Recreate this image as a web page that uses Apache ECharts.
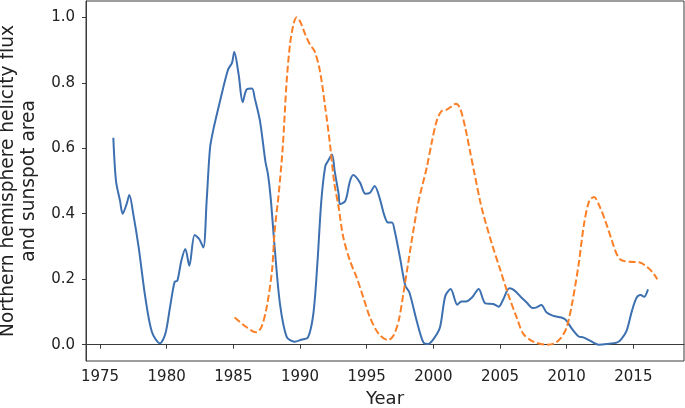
<!DOCTYPE html>
<html>
<head>
<meta charset="utf-8">
<script src="https://cdn.jsdelivr.net/npm/echarts@6/dist/echarts.min.js"></script>
<style>
    html, body { margin: 0; padding: 0; background: #fff; }
    #chart { width: 685px; height: 408px; }
</style>
</head>
<body>
<div id="chart"></div>
<script>
    // helicity flux (blue, solid)
    const helicityYears = [1976.0, 1976.2, 1976.5, 1976.7, 1977.0, 1977.2, 1977.5, 1977.9, 1978.4, 1978.9, 1979.5, 1979.9,
        1980.25, 1980.6, 1980.8, 1981.1, 1981.4, 1981.7, 1982.1, 1982.45, 1982.75, 1983.0, 1983.25, 1983.5, 1984.0,
        1984.6, 1984.9, 1985.07, 1985.4, 1985.7, 1986.0, 1986.4, 1986.6, 1987.0, 1987.4, 1987.6, 1987.8, 1988.1,
        1988.5, 1989.0, 1989.6, 1990.1, 1990.6, 1991.0, 1991.3, 1991.6, 1991.9, 1992.1, 1992.4, 1992.6, 1992.9,
        1993.0, 1993.4, 1993.75, 1994.0, 1994.5, 1994.9, 1995.25, 1995.6, 1996.0, 1996.3, 1996.6, 1996.9, 1997.1,
        1997.5, 1997.9, 1998.2, 1998.75, 1999.25, 1999.6, 2000.1, 2000.5, 2000.9, 2001.3, 2001.8, 2002.1, 2002.45,
        2002.9, 2003.4, 2003.9, 2004.5, 2004.9, 2005.25, 2005.7, 2006.1, 2006.6, 2007.0, 2007.45, 2007.75, 2008.1,
        2008.5, 2009.0, 2009.6, 2009.95, 2010.4, 2010.9, 2011.25, 2011.75, 2012.4, 2013.0, 2013.8, 2014.1, 2014.5,
        2014.9, 2015.25, 2015.55, 2015.8, 2016.1];
    const helicityValues = [0.632, 0.50, 0.44, 0.40, 0.43, 0.457, 0.398, 0.297, 0.144, 0.038, 0.004, 0.033,
        0.114, 0.192, 0.195, 0.256, 0.292, 0.241, 0.335, 0.322, 0.297, 0.44, 0.60, 0.657, 0.744,
        0.84, 0.861, 0.894, 0.825, 0.741, 0.78, 0.783, 0.754, 0.683, 0.561, 0.52, 0.449, 0.297,
        0.124, 0.024, 0.009, 0.015, 0.022, 0.094, 0.246, 0.44, 0.546, 0.561, 0.581, 0.53, 0.46,
        0.429, 0.439, 0.50, 0.518, 0.495, 0.461, 0.464, 0.485, 0.444, 0.398, 0.373, 0.373, 0.348,
        0.266, 0.18, 0.16, 0.073, 0.007, 0.002, 0.022, 0.053, 0.149, 0.17, 0.122, 0.132, 0.132,
        0.144, 0.17, 0.126, 0.124, 0.116, 0.139, 0.172, 0.165, 0.144, 0.129, 0.112, 0.114, 0.121,
        0.098, 0.088, 0.083, 0.075, 0.048, 0.025, 0.022, 0.012, 0.0, 0.002, 0.007, 0.017, 0.043,
        0.104, 0.144, 0.152, 0.146, 0.169];

    // sunspot area (orange, dashed)
    const sunspotYears = [1985.1, 1986.0, 1986.7, 1987.1, 1987.5, 1987.9, 1988.1, 1988.4, 1988.7, 1989.0, 1989.25,
        1989.5, 1989.75, 1990.0, 1990.4, 1990.75, 1991.1, 1991.5, 1991.9, 1992.25, 1992.55, 1992.9, 1993.25,
        1993.75, 1994.25, 1994.75, 1995.25, 1995.9, 1996.6, 1997.0, 1997.4, 1997.75, 1998.1, 1998.5, 1998.9,
        1999.5, 1999.9, 2000.25, 2000.6, 2001.0, 2001.4, 2001.7, 2002.0, 2002.4, 2002.75, 2003.1, 2003.5,
        2003.75, 2004.4, 2005.0, 2005.6, 2006.25, 2006.75, 2007.5, 2008.5, 2009.1, 2009.6, 2010.0, 2010.4,
        2010.9, 2011.3, 2011.7, 2012.05, 2012.4, 2012.9, 2013.4, 2013.75, 2014.1, 2014.75, 2015.5, 2016.0,
        2016.4, 2016.8];
    const sunspotValues = [0.083, 0.053, 0.038, 0.053, 0.114, 0.226, 0.348, 0.46, 0.60, 0.805, 0.917,
        0.977, 1.0, 0.988, 0.947, 0.917, 0.896, 0.835, 0.723, 0.612, 0.5, 0.419, 0.327,
        0.256, 0.205, 0.144, 0.083, 0.033, 0.014, 0.027, 0.073, 0.155, 0.246, 0.348, 0.44,
        0.54, 0.622, 0.683, 0.713, 0.718, 0.729, 0.736, 0.723, 0.662, 0.591, 0.52, 0.44,
        0.398, 0.307, 0.231, 0.155, 0.083, 0.033, 0.009, 0.0, 0.004, 0.022, 0.053, 0.124,
        0.246, 0.368, 0.44, 0.451, 0.429, 0.378, 0.317, 0.277, 0.258, 0.253, 0.251, 0.238,
        0.223, 0.2];

    const yearTicks = [1975, 1980, 1985, 1990, 1995, 2000, 2005, 2010, 2015];
    const valueTicks = [0.0, 0.2, 0.4, 0.6, 0.8, 1.0];

    const zip = (xs, ys) => xs.map((x, i) => [x, ys[i]]);

    const font = 'DejaVu Sans';
    const chart = echarts.init(document.getElementById('chart'), null, { renderer: 'canvas' });
    chart.setOption({
        animation: false,
        backgroundColor: '#fff',
        grid: {
            left: 86, right: 1, top: 1, bottom: 47,
            containLabel: false,
            outerBoundsMode: 'none',
            show: true, borderColor: '#3a3a3a', borderWidth: 1
        },
        xAxis: {
            type: 'value',
            min: 1973.95,
            max: 2018.8,
            name: 'Year',
            nameLocation: 'middle',
            nameGap: 26,
            nameTextStyle: { fontFamily: font, fontSize: 18, color: '#222' },
            axisLine: { show: true, lineStyle: { color: '#3a3a3a', width: 1 } },
            axisTick: { show: true, customValues: yearTicks, length: 4, lineStyle: { color: '#3a3a3a' } },
            axisLabel: {
                customValues: yearTicks,
                margin: 9,
                fontFamily: font, fontSize: 15, color: '#222',
                formatter: v => String(Math.round(v))
            },
            splitLine: { show: false }
        },
        yAxis: {
            type: 'value',
            min: -0.05,
            max: 1.05,
            name: 'Northern hemisphere helicity flux\nand sunspot area',
            nameLocation: 'middle',
            nameRotate: 90,
            nameGap: 46,
            nameTextStyle: { fontFamily: font, fontSize: 18.6, color: '#222', lineHeight: 21 },
            axisLine: { show: true, lineStyle: { color: '#3a3a3a', width: 1 } },
            axisTick: { show: true, customValues: valueTicks, length: 4, lineStyle: { color: '#3a3a3a' } },
            axisLabel: {
                customValues: valueTicks,
                margin: 11,
                fontFamily: font, fontSize: 15, color: '#222',
                formatter: v => v.toFixed(1)
            },
            splitLine: { show: false }
        },
        series: [{
            name: 'helicity',
            type: 'line',
            data: zip(helicityYears, helicityValues),
            smooth: 0.3,
            showSymbol: false,
            lineStyle: { color: '#3d70b0', width: 2 }
        }, {
            name: 'sunspot',
            type: 'line',
            data: zip(sunspotYears, sunspotValues),
            smooth: 0.3,
            showSymbol: false,
            lineStyle: { color: '#fb7f26', width: 2, type: [7, 3] }
        }]
    });
</script>
</body>
</html>
